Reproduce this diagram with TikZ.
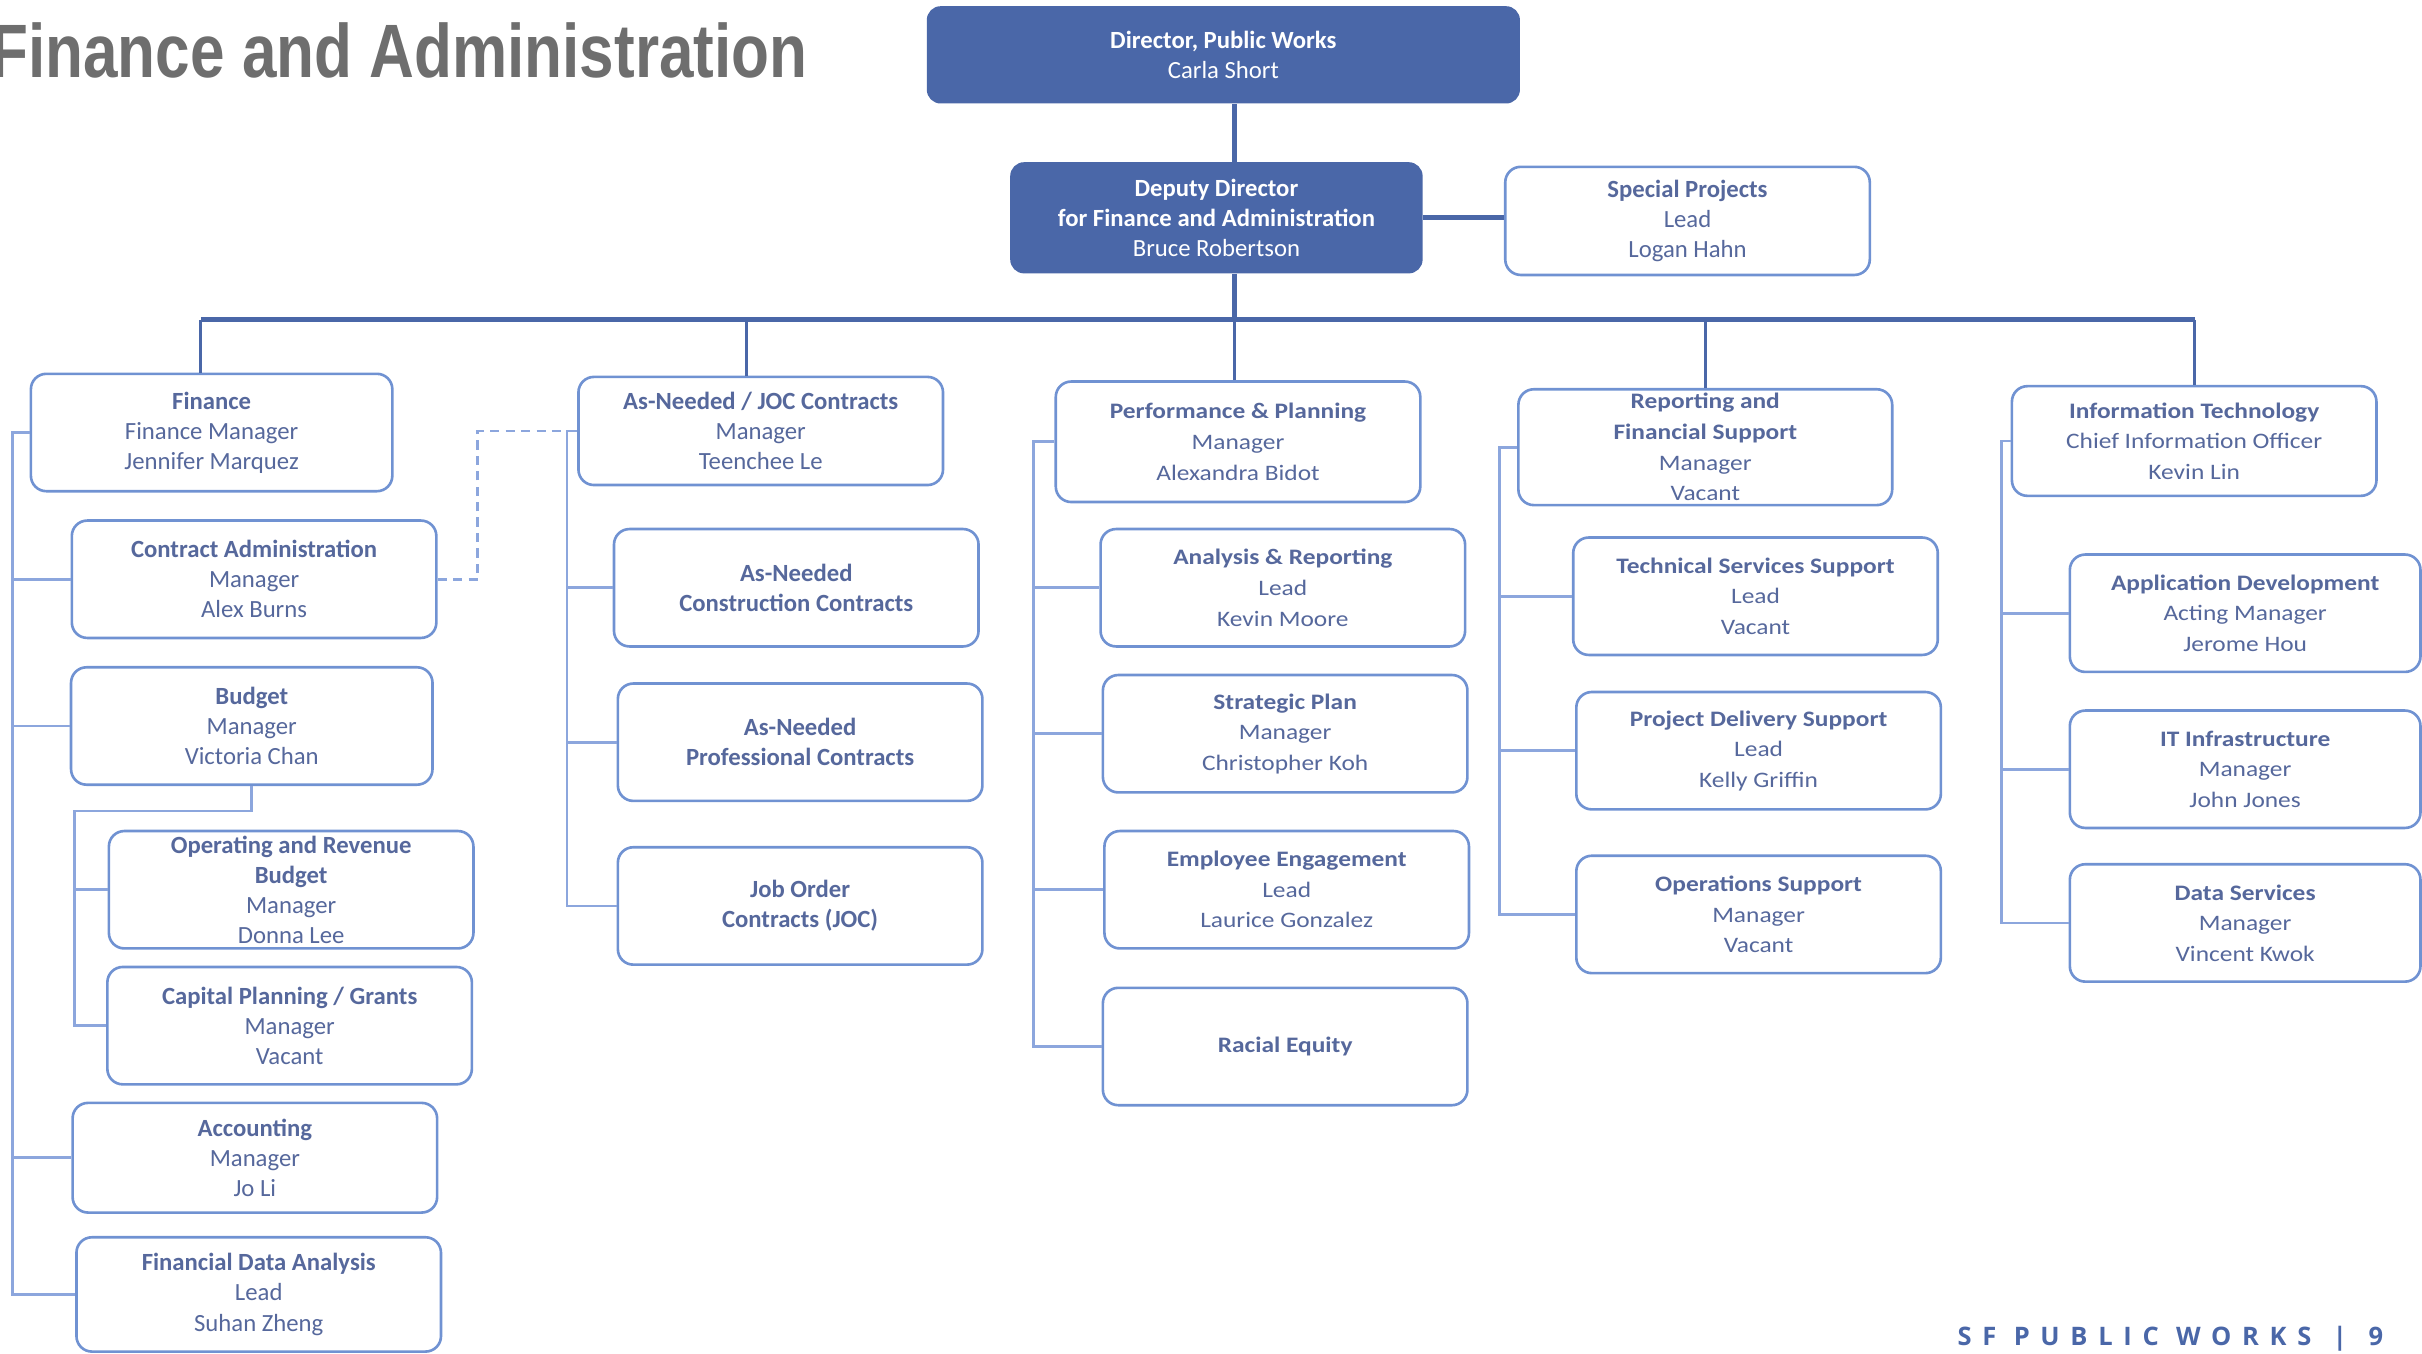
\documentclass[tikz,border=0pt]{standalone}
\usepackage{fontspec}
\setmainfont{Carlito}
\newfontfamily\widefont{Carlito}[FakeStretch=1.15]
\newfontfamily\titlefont{Liberation Sans}[FakeStretch=0.82]
\newfontfamily\footfont{Open Sans}[LetterSpace=42]
\usepackage{tikz}
\definecolor{pwblue}{HTML}{4A67A8}
\definecolor{boxline}{HTML}{7092D2}
\definecolor{boxtext}{HTML}{56689C}
\definecolor{spinecol}{HTML}{8CA6DD}
\definecolor{titlegray}{HTML}{6E6E6E}

\begin{document}
\begin{tikzpicture}[x=1pt,y=-1pt,
  every node/.style={align=center, inner sep=0pt},
  orgbox/.style={draw=boxline, line width=1.7pt, rounded corners=10pt, fill=white, text=boxtext,
    minimum width=236pt, minimum height=76pt, font=\fontsize{16}{19.5}\selectfont},
  widebox/.style={orgbox, font=\widefont\fontsize{14.3}{19.8}\selectfont},
  topbox/.style={fill=pwblue, rounded corners=9pt, text=white, font=\fontsize{16}{19.5}\selectfont},
  spine/.style={draw=spinecol, line width=1.8pt},
  busline/.style={draw=pwblue, line width=3.2pt},
  dropline/.style={draw=pwblue, line width=2pt},
  dashlink/.style={draw=spinecol, line width=1.8pt, dash pattern=on 6pt off 4pt}]
\useasboundingbox (0,0) rectangle (1568,876);

% Title and footer
\node[font=\titlefont\bfseries\fontsize{49}{55}\selectfont, text=titlegray, anchor=base east] (ttl) at (523,50) {Finance and Administration};
\node[font=\footfont\bfseries\fontsize{16.5}{18}\selectfont, text=pwblue, anchor=base east] (ftr) at (1543,871) {SF PUBLIC WORKS \,|\, 9};

% Top
\node[topbox, minimum width=384pt, minimum height=63pt] (dir) at (792,35.5) {\textbf{Director, Public Works}\\Carla Short};
\node[topbox, minimum width=267pt, minimum height=72pt] (dep) at (787.5,141) {\textbf{Deputy Director}\\\textbf{for Finance and Administration}\\Bruce Robertson};
\node[orgbox, minimum height=70pt] (spl) at (1092.5,143) {\textbf{Special Projects}\\Lead\\Logan Hahn};

% Finance
\node[orgbox, minimum width=234pt] (fin) at (137,280) {\textbf{Finance}\\Finance Manager\\Jennifer Marquez};
\node[orgbox] (ca) at (164.5,375) {\textbf{Contract Administration}\\Manager\\Alex Burns};
\node[orgbox, minimum width=234pt] (bud) at (163,470) {\textbf{Budget}\\Manager\\Victoria Chan};
\node[orgbox] (orb) at (188.5,576) {\textbf{Operating and Revenue}\\\textbf{Budget}\\Manager\\Donna Lee};
\node[orgbox] (cpg) at (187.5,664) {\textbf{Capital Planning / Grants}\\Manager\\Vacant};
\node[orgbox, minimum height=71pt] (acc) at (165,749.5) {\textbf{Accounting}\\Manager\\Jo Li};
\node[orgbox, minimum height=74pt] (fda) at (167.5,838) {\textbf{Financial Data Analysis}\\Lead\\Suhan Zheng};

% As-Needed
\node[orgbox, minimum height=70pt] (anj) at (492.5,279) {\textbf{As-Needed / JOC Contracts}\\Manager\\Teenchee Le};
\node[orgbox] (anc) at (515.5,380.5) {\textbf{As-Needed}\\\textbf{Construction Contracts}};
\node[orgbox] (anp) at (518,480.5) {\textbf{As-Needed}\\\textbf{Professional Contracts}};
\node[orgbox] (joc) at (518,586.5) {\textbf{Job Order}\\\textbf{Contracts (JOC)}};

% Performance
\node[widebox, minimum height=78pt] (pp) at (801.5,286) {\textbf{Performance \& Planning}\\Manager\\Alexandra Bidot};
\node[widebox] (ar) at (830.5,380.5) {\textbf{Analysis \& Reporting}\\Lead\\Kevin Moore};
\node[widebox] (stp) at (832,475) {\textbf{Strategic Plan}\\Manager\\Christopher Koh};
\node[widebox] (ee) at (833,576) {\textbf{Employee Engagement}\\Lead\\Laurice Gonzalez};
\node[widebox] (re) at (832,677.5) {\textbf{Racial Equity}};

% Reporting
\node[widebox, minimum width=242pt, minimum height=75pt] (rfs) at (1104,289.5) {\textbf{Reporting and}\\\textbf{Financial Support}\\Manager\\Vacant};
\node[widebox] (tss) at (1136.5,386) {\textbf{Technical Services Support}\\Lead\\Vacant};
\node[widebox] (pds) at (1138.5,486) {\textbf{Project Delivery Support}\\Lead\\Kelly Griffin};
\node[widebox] (ops) at (1138.5,592) {\textbf{Operations Support}\\Manager\\Vacant};

% Information Technology
\node[widebox, minimum height=71pt] (it) at (1420.5,285.5) {\textbf{Information Technology}\\Chief Information Officer\\Kevin Lin};
\node[widebox, minimum width=227pt] (ad) at (1453.5,397) {\textbf{Application Development}\\Acting Manager\\Jerome Hou};
\node[widebox, minimum width=227pt] (iti) at (1453.5,498) {\textbf{IT Infrastructure}\\Manager\\John Jones};
\node[widebox, minimum width=227pt] (ds) at (1453.5,597.5) {\textbf{Data Services}\\Manager\\Vincent Kwok};

% Links
\coordinate (bus) at (799,207);
\draw[busline] (dir.south -| bus) -- (dep.north -| bus);
\draw[busline] (dep.south -| bus) -- (bus);
\draw[busline] (dep.east) -- (dep.east -| spl.west);
\draw[busline] (130,207) -- (1421,207);
\foreach \n/\dx in {fin/-7,anj/-9.5,pp/-2.5,rfs/0,it/0}{
  \coordinate (top) at ([xshift=\dx pt]\n.north);
  \draw[dropline] (top |- bus) -- (top);
}

% Spines
\coordinate (finsp) at (8,0);
\draw[spine] (fin.west) -| (finsp |- fda.west) -- (fda.west);
\foreach \n in {ca,bud,acc} \draw[spine] (\n.west) -- (\n.west -| finsp);
\coordinate (budsp) at (48,525);
\draw[spine] (bud.south) |- (budsp) |- (cpg.west);
\draw[spine] (orb.west) -- (orb.west -| budsp);
\draw[dashlink] (ca.east) -- ++(26,0) |- (anj.west);

\coordinate (ansp) at (367,0);
\draw[spine] (anj.west) -| (ansp |- joc.west) -- (joc.west);
\foreach \n in {anc,anp} \draw[spine] (\n.west) -- (\n.west -| ansp);

\coordinate (ppsp) at (669,0);
\draw[spine] (pp.west) -| (ppsp |- re.west) -- (re.west);
\foreach \n in {ar,stp,ee} \draw[spine] (\n.west) -- (\n.west -| ppsp);

\coordinate (rfsp) at (971,0);
\draw[spine] (rfs.west) -| (rfsp |- ops.west) -- (ops.west);
\foreach \n in {tss,pds} \draw[spine] (\n.west) -- (\n.west -| rfsp);

\coordinate (itsp) at (1296,0);
\draw[spine] (it.west) -| (itsp |- ds.west) -- (ds.west);
\foreach \n in {ad,iti} \draw[spine] (\n.west) -- (\n.west -| itsp);
\end{tikzpicture}
\end{document}
